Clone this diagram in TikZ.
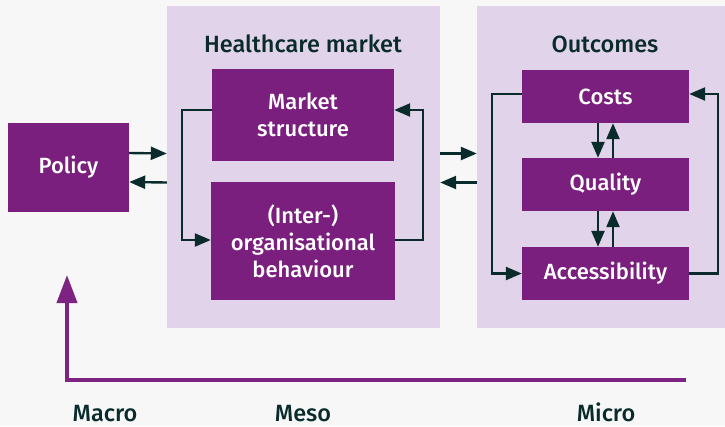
\documentclass[tikz,border=0pt]{standalone}
\usepackage{fontspec}
\setmainfont{Fira Sans}[UprightFont=* Medium, BoldFont=* SemiBold]
\usetikzlibrary{arrows.meta}
\definecolor{bg}{HTML}{F7F7F7}
\definecolor{panel}{HTML}{E1D3E9}
\definecolor{boxc}{HTML}{7A1F7E}
\definecolor{dark}{HTML}{0A2B2B}
\definecolor{bigarr}{HTML}{7D2482}
\begin{document}
\begin{tikzpicture}[x=1pt,y=-1pt,
  box/.style={fill=boxc, text=white, align=center, inner sep=0pt,
    font=\fontsize{22}{27}\selectfont},
  panelbox/.style={fill=panel, inner sep=0pt},
  title/.style={text=dark, font=\fontsize{23.5}{27}\selectfont},
  conn/.style={draw=dark, line width=2.4pt, -{Triangle[length=16pt,width=13pt]}},
  bigarrow/.style={draw=bigarr, line width=4pt, -{Triangle[length=28pt,width=20pt]}}]
\fill[bg] (0,0) rectangle (725,426);
\useasboundingbox (0,0) rectangle (725,426);
% panels
\node[panelbox, minimum width=273pt, minimum height=322pt] (hc) at (303.5,167) {};
\node[panelbox, minimum width=248pt, minimum height=322pt] (out) at (601,167) {};
\node[title] (hctitle) at (303,44) {Healthcare market};
\node[title] (outtitle) at (605,44) {Outcomes};
% boxes
\node[box, minimum width=121pt, minimum height=89pt] (policy) at (68.5,167.5) {Policy};
\node[box, minimum width=182pt, minimum height=92pt] (ms) at (303,115) {Market\\structure};
\node[box, minimum width=184pt, minimum height=118pt] (io) at (303,241) {(Inter-)\\organisational\\behaviour};
\node[box, minimum width=167pt, minimum height=53pt] (costs) at (605.5,96.5) {Costs};
\node[box, minimum width=167pt, minimum height=53pt] (quality) at (605.5,184.5) {Quality};
\node[box, minimum width=167pt, minimum height=53pt] (acc) at (605.5,273.5) {Accessibility};
% policy <-> market
\draw[conn] ([yshift=14.5pt]policy.east) -- ([yshift=13.5pt]hc.west);
\draw[conn] ([yshift=-15.5pt]hc.west) -- ([yshift=-14.5pt]policy.east);
% market <-> outcomes
\draw[conn] ([yshift=13.5pt]hc.east) -- ([yshift=13.5pt]out.west);
\draw[conn] ([yshift=-15.5pt]out.west) -- ([yshift=-15.5pt]hc.east);
% market loop
\draw[conn] ([yshift=5pt]ms.west) -- ++(-30,0) |- ([yshift=1pt]io.west);
\draw[conn] ([yshift=1pt]io.east) -- ++(28,0) |- ([yshift=5pt]ms.east);
% outcomes loop
\draw[conn] ([yshift=2.5pt]costs.west) -- ++(-30,0) |- (acc.west);
\draw[conn] (acc.east) -- ++(29,0) |- ([yshift=2.5pt]costs.east);
% vertical pairs
\draw[conn] ([xshift=-7.5pt]costs.south) -- ([xshift=-7.5pt]quality.north);
\draw[conn] ([xshift=7.5pt]quality.north) -- ([xshift=7.5pt]costs.south);
\draw[conn] ([xshift=-7.5pt]quality.south) -- ([xshift=-7.5pt]acc.north);
\draw[conn] ([xshift=7.5pt]acc.north) -- ([xshift=7.5pt]quality.south);
% big arrow
\coordinate (bigstart) at (686,380);
\coordinate (bigtip) at (67,275);
\draw[bigarrow] (bigstart) -| (bigtip);
% level labels
\node[title, anchor=base] (macro) at (105,421) {Macro};
\node[title, anchor=base] (meso) at (303,421) {Meso};
\node[title, anchor=base] (micro) at (606,421) {Micro};
\end{tikzpicture}
\end{document}
